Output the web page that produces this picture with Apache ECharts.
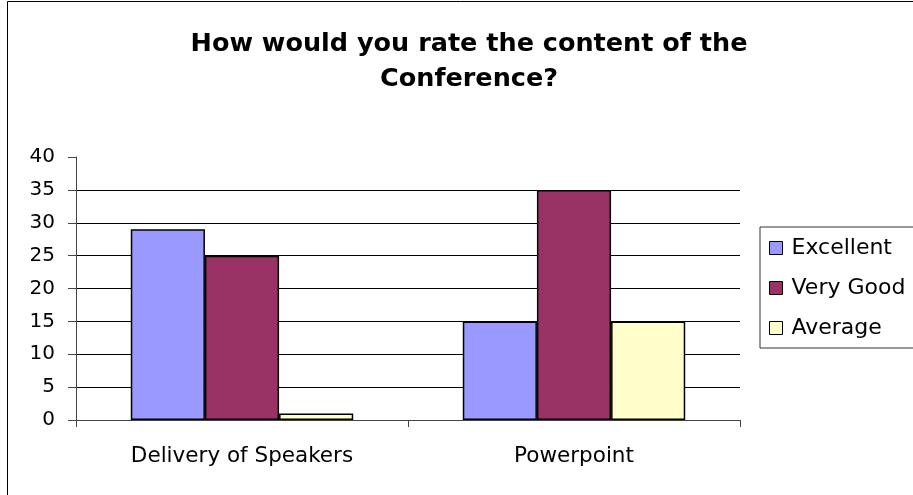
<!DOCTYPE html>
<html><head><meta charset="utf-8">
<script src="https://cdn.jsdelivr.net/npm/echarts@6/dist/echarts.min.js"></script>
<style>html,body{margin:0;padding:0;background:#fff}#c{width:913px;height:495px}</style>
</head><body><div id="c"></div>
<script>
const categories = ['Delivery of Speakers', 'Powerpoint'];
const excellent = [29, 15];
const veryGood = [25, 35];
const average = [1, 15];
const yTicks = [0, 5, 10, 15, 20, 25, 30, 35, 40];

const chart = echarts.init(document.getElementById('c'));
const font = 'DejaVu Sans';
const gridColors = yTicks.map((v, i) => i === yTicks.length - 1 ? 'rgba(0,0,0,0)' : '#000');
function ser(name, data, color) {
  return {
    name, type: 'bar', data, barGap: '0%', barCategoryGap: '33%',
    itemStyle: { color, borderColor: '#000', borderWidth: 1.5 }
  };
}
chart.setOption({
  animation: false,
  title: {
    text: 'How would you rate the content of the\nConference?',
    left: 469, top: 27, textAlign: 'center', padding: 0,
    textStyle: { fontFamily: font, fontWeight: 'bold', fontSize: 25.5, lineHeight: 35, color: '#000' }
  },
  legend: {
    orient: 'vertical', left: 760, top: 227,
    padding: [10, 30, 9, 9], itemGap: 18, itemWidth: 13, itemHeight: 13,
    icon: 'rect',
    borderColor: '#333', borderWidth: 1,
    itemStyle: { borderColor: '#000', borderWidth: 1 },
    textStyle: { fontFamily: font, fontSize: 22, lineHeight: 22, color: '#000', padding: [0, 0, 0, 4] },
    data: ['Excellent', 'Very Good', 'Average']
  },
  grid: { left: 76, right: 173, top: 157, bottom: 75, containLabel: false },
  xAxis: {
    type: 'category', data: categories,
    axisLine: { lineStyle: { color: '#444', width: 1 } },
    axisTick: { show: true, length: 7, lineStyle: { color: '#444' } },
    axisLabel: { fontFamily: font, fontSize: 21.5, color: '#000', margin: 25 }
  },
  yAxis: {
    type: 'value', min: 0, max: 40, interval: 5,
    axisLine: { show: true, lineStyle: { color: '#444', width: 1 } },
    axisTick: { show: true, length: 8, lineStyle: { color: '#444' } },
    axisLabel: { fontFamily: font, fontSize: 20, color: '#000', margin: 21 },
    splitLine: { show: true, lineStyle: { color: gridColors, width: 1 } }
  },
  graphic: [{
    type: 'polyline',
    shape: { points: [[7.5, 495], [7.5, 1.5], [913, 1.5]] },
    style: { stroke: '#000', lineWidth: 1, fill: null }, silent: true
  }],
  series: [
    ser('Excellent', excellent, '#9999FF'),
    ser('Very Good', veryGood, '#993366'),
    ser('Average', average, '#FFFFCC')
  ]
});
</script></body></html>
